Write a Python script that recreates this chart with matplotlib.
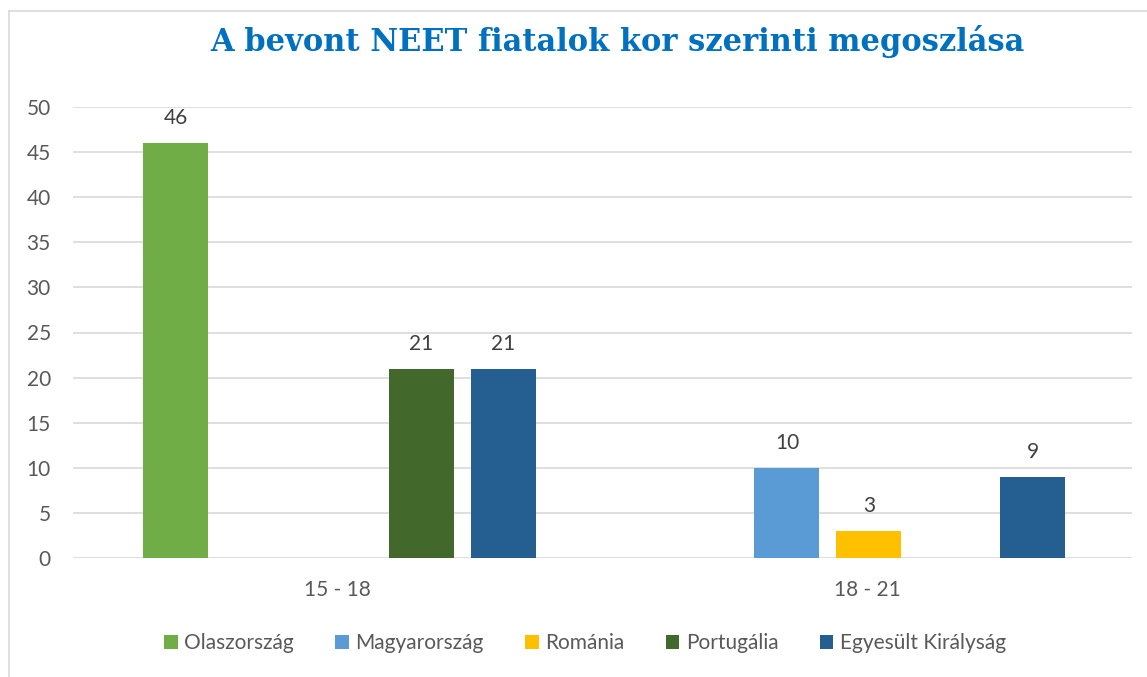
import matplotlib.pyplot as plt
import numpy as np

# data
categories = ["15 - 18", "18 - 21"]
series = ["Olaszország", "Magyarország", "Románia", "Portugália", "Egyesült Királyság"]
olasz = [46, None]
magyar = [None, 10]
roman = [None, 3]
portugal = [21, None]
uk = [21, 9]
colors = ["#70AD47", "#5B9BD5", "#FFC000", "#43682B", "#255E91"]

values = [olasz, magyar, roman, portugal, uk]

plt.rcParams['font.family'] = ['Lato', 'DejaVu Sans']

fig = plt.figure(figsize=(11.47, 6.77), dpi=100)
ax = fig.add_axes([73 / 1147, 1 - 558 / 677, (1132 - 73) / 1147, (558 - 107) / 677])

x = np.arange(len(categories))
slot = 0.1547
width = 0.1226
for i, (name, vals) in enumerate(zip(series, values)):
    pos = x + (i - 2) * slot + 0.003
    h = [v if v is not None else np.nan for v in vals]
    ax.bar(pos, h, width, color=colors[i], label=name, zorder=3)
    for px, v in zip(pos, vals):
        if v is not None:
            ax.annotate(str(v), (px, v), xytext=(0, 18), textcoords="offset points",
                        ha="center", va="center", fontsize=15, color="#404040")

ax.set_ylim(0, 50)
ax.set_xlim(-0.5, 1.5)
ax.set_yticks(range(0, 51, 5))
ax.set_xticks(x)
ax.set_xticklabels(categories)
ax.tick_params(axis="both", length=0, labelsize=15, labelcolor="#595959")
ax.tick_params(axis="y", pad=16)
ax.tick_params(axis="x", pad=16)
ax.grid(axis="y", color="#D9D9D9", linewidth=1.2, zorder=0)
for s in ax.spines.values():
    s.set_visible(False)

fig.text(617 / 1147, 1 - 42 / 677, "A bevont NEET fiatalok kor szerinti megoszlása",
         ha="center", va="center", fontsize=22, fontweight="bold", color="#0070C0",
         family="DejaVu Serif")

fig.legend(loc="center", bbox_to_anchor=(585 / 1147, 1 - 643 / 677), ncol=5,
           frameon=False, fontsize=15, handlelength=0.65, handleheight=0.65,
           handletextpad=0.3, columnspacing=2.0, labelcolor="#595959")

# chart border
fig.add_artist(plt.Line2D([9 / 1147, 9 / 1147], [0, 1 - 11 / 677], color="#D9D9D9", lw=1.2))
fig.add_artist(plt.Line2D([9 / 1147, 1], [1 - 11 / 677, 1 - 11 / 677], color="#D9D9D9", lw=1.2))

fig.savefig("out.png", dpi=100)
